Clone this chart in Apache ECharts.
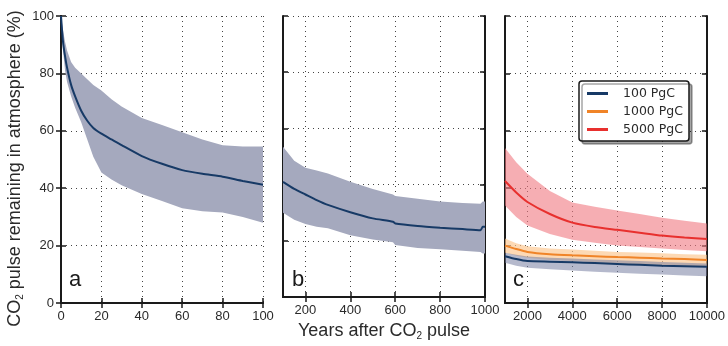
<!DOCTYPE html>
<html><head><meta charset="utf-8">
<script src="https://cdn.jsdelivr.net/npm/echarts@6/dist/echarts.min.js"></script>
<style>html,body{margin:0;padding:0;background:#fff}#c{width:728px;height:346px}</style>
</head><body><div id="c"></div>
<script>
// ---- tick labels ----
const yTicks = [0, 20, 40, 60, 80, 100];
const aTicks = [0, 20, 40, 60, 80, 100];
const bTicks = [200, 400, 600, 800, 1000];
const cTicks = [2000, 4000, 6000, 8000, 10000];

// ---- panel a (0-100 yr) ----
const aYears = [0, 1, 2, 3, 5, 7, 10, 13, 16, 20, 25, 30, 40, 50, 60, 70, 80, 90, 100];
const aMean  = [100, 91, 86, 82, 76, 72, 67, 63.5, 61, 59, 57, 55, 51.2, 48.5, 46.3, 45, 44, 42.5, 41.2];
const aUpper = [100, 95, 91, 88, 84, 82, 80, 78, 76, 74, 71, 68.5, 64.5, 62, 59.5, 57, 55, 54.5, 54.5];
const aLower = [100, 88, 81, 77, 72, 68, 63, 57, 51, 45.5, 43, 41, 38, 35.5, 33, 32, 31.5, 30, 28];

// ---- panel b (100-1000 yr) ----
const bYears = [100, 150, 200, 250, 300, 400, 500, 590, 600, 700, 800, 900, 980, 990, 1000];
const bMean  = [41, 38.5, 36.5, 34.5, 32.8, 30.2, 28, 26.8, 26.2, 25.3, 24.7, 24.2, 23.8, 25, 25];
const bUpper = [53.5, 48.5, 46, 45, 44, 41, 38.5, 36.5, 36, 35, 34, 33.5, 33.2, 34, 34];
const bLower = [30, 27.5, 26, 25, 24.5, 22, 20.5, 19.5, 18.5, 17.5, 17, 16.5, 16, 15.5, 15.5];

// ---- panel c (1000-10000 yr) ----
const cYears = [1000, 1500, 2000, 3000, 4000, 5000, 6000, 7000, 8000, 9000, 10000];
const redMean    = [42.5, 38.5, 35.2, 31, 28, 26.5, 25.5, 24.5, 23.5, 22.8, 22.3];
const redUpper   = [54, 49, 45, 39, 35, 33.5, 32.2, 31, 29.7, 28.7, 27.7];
const redLower   = [34, 30, 27, 24, 22, 21, 20, 19.5, 19, 18.5, 18];
const orangeMean = [20, 18.8, 17.8, 17, 16.6, 16.3, 16, 15.8, 15.5, 15.3, 15];
const orangeUpper= [22.5, 20.8, 19.8, 19, 18.6, 18.2, 17.8, 17.6, 17.3, 17, 16.8];
const orangeLower= [17.5, 16.5, 15.8, 15, 14.6, 14.2, 13.8, 13.5, 13.2, 13, 12.8];
const navyMean   = [16.3, 15.3, 14.6, 14.4, 14.2, 13.9, 13.6, 13.3, 13, 12.8, 12.6];
const navyUpper  = [17.5, 16.8, 16.2, 15.8, 15.5, 15.2, 14.9, 14.6, 14.3, 14, 13.8];
const navyLower  = [14, 13, 12.3, 11.8, 11.3, 10.9, 10.5, 10.2, 9.9, 9.6, 9.3];

const seriesNames = ['100 PgC', '1000 PgC', '5000 PgC'];

const NAVY = '#173a66', ORANGE = '#f08428', RED = '#e8302e';
const FONT = 'Liberation Sans';
const TXT = '#2a2a2a';
const frame = { show: true, lineStyle: { color: '#1a1a1a', width: 2 } };
const dotted = { show: true, lineStyle: { color: '#444', width: 1, type: [1, 4] } };
const subRich = { s: { fontFamily: FONT, fontSize: 10, color: TXT, padding: [10, 0, 0, 0] } };

function bottomX(gi, min, max, ticks, name) {
  return {
    type: 'value', gridIndex: gi, min: min, max: max, position: 'bottom',
    axisLine: frame,
    axisTick: { show: true, inside: true, length: 5, customValues: ticks, lineStyle: { color: '#1a1a1a', width: 1.5 } },
    axisLabel: { show: true, customValues: ticks, fontFamily: FONT, fontSize: 13, color: TXT, margin: 7,
      formatter: v => String(v) },
    splitLine: dotted,
    name: name || '', nameLocation: 'middle', nameGap: 23,
    nameTextStyle: { fontFamily: FONT, fontSize: 18, color: TXT, rich: subRich }
  };
}
function topX(gi, min, max, ticks) {
  return {
    type: 'value', gridIndex: gi, min: min, max: max, position: 'top',
    axisLine: frame,
    axisTick: { show: true, inside: true, length: 5, customValues: ticks, lineStyle: { color: '#1a1a1a', width: 1.5 } },
    axisLabel: { show: false }, splitLine: { show: false }
  };
}
function leftY(gi, showLabel) {
  const ax = {
    type: 'value', gridIndex: gi, min: 0, max: 100, interval: 20, position: 'left',
    axisLine: frame,
    axisTick: { show: true, inside: true, length: 5, lineStyle: { color: '#1a1a1a', width: 1.5 } },
    axisLabel: { show: showLabel, fontFamily: FONT, fontSize: 13, color: TXT, margin: 7 },
    splitLine: dotted
  };
  if (showLabel) {
    ax.name = 'CO{s|2} pulse remaining in atmosphere (%)';
    ax.nameLocation = 'middle';
    ax.nameGap = 36;
    ax.nameTextStyle = { fontFamily: FONT, fontSize: 18, color: TXT, padding: [0, 0, 0, -18], rich: subRich };
  }
  return ax;
}
function rightY(gi) {
  return {
    type: 'value', gridIndex: gi, min: 0, max: 100, interval: 20, position: 'right',
    axisLine: frame,
    axisTick: { show: true, inside: true, length: 5, lineStyle: { color: '#1a1a1a', width: 1.5 } },
    axisLabel: { show: false }, splitLine: { show: false }
  };
}

const series = [];
function band(xi, yi, xs, lo, hi, color) {
  series.push({
    type: 'custom', xAxisIndex: xi, yAxisIndex: yi, silent: true, z: 2, clip: true,
    data: xs.map((x, i) => [x, lo[i], hi[i]]),
    encode: { x: 0, y: [1, 2] },
    renderItem: function (params, api) {
      if (params.dataIndex !== 0) return;
      const pts = [];
      for (let i = 0; i < xs.length; i++) pts.push(api.coord([xs[i], hi[i]]));
      for (let i = xs.length - 1; i >= 0; i--) pts.push(api.coord([xs[i], lo[i]]));
      return { type: 'polygon', shape: { points: pts }, style: { fill: color, stroke: null } };
    }
  });
}
function line(xi, yi, xs, ys, color, name) {
  series.push({
    type: 'line', name: name, xAxisIndex: xi, yAxisIndex: yi, symbol: 'none',
    lineStyle: { color: color, width: 2 }, itemStyle: { color: color },
    data: xs.map((x, i) => [x, ys[i]]), smooth: 0.2, z: 5
  });
}

// panel a
band(0, 0, aYears, aLower, aUpper, '#a5a9be');
line(0, 0, aYears, aMean, NAVY, 'a100');
// panel b
band(2, 2, bYears, bLower, bUpper, '#a5a9be');
line(2, 2, bYears, bMean, NAVY, 'b100');
// panel c
band(4, 4, cYears, redLower, redUpper, 'rgba(240,120,128,0.6)');
band(4, 4, cYears, orangeLower, orangeUpper, 'rgba(252,196,140,0.65)');
band(4, 4, cYears, navyLower, navyUpper, 'rgba(120,128,162,0.55)');
line(4, 4, cYears, redMean, RED, seriesNames[2]);
line(4, 4, cYears, orangeMean, ORANGE, seriesNames[1]);
line(4, 4, cYears, navyMean, NAVY, seriesNames[0]);

const option = {
  animation: false,
  backgroundColor: '#fff',
  grid: [
    { left: 61, top: 16, width: 202, height: 287 },
    { left: 283, top: 16, width: 202, height: 287 },
    { left: 505, top: 16, width: 202, height: 287 }
  ],
  xAxis: [
    bottomX(0, 0, 100, aTicks), topX(0, 0, 100, aTicks),
    bottomX(1, 100, 1000, bTicks, 'Years after CO{s|2} pulse'), topX(1, 100, 1000, bTicks),
    bottomX(2, 1000, 10000, cTicks), topX(2, 1000, 10000, cTicks)
  ],
  yAxis: [
    leftY(0, true), rightY(0),
    leftY(1, false), rightY(1),
    leftY(2, false), rightY(2)
  ],
  legend: {
    orient: 'vertical', left: 579, top: 81,
    data: seriesNames.map(n => ({ name: n, icon: 'rect' })),
    itemWidth: 21, itemHeight: 3, itemGap: 5,
    padding: [6, 6, 5, 8],
    backgroundColor: '#fff', borderColor: '#1a1a1a', borderWidth: 1.5, borderRadius: 3,
    shadowColor: 'rgba(0,0,0,0.35)', shadowBlur: 0, shadowOffsetX: 3, shadowOffsetY: 3,
    textStyle: { fontFamily: 'DejaVu Sans', fontSize: 12.5, color: TXT, padding: [0, 0, 0, 10] },
    selectedMode: false
  },
  title: [
    { text: 'a', left: 64, top: 264, textStyle: { fontFamily: FONT, fontSize: 22, fontWeight: 'normal', color: '#1a1a1a' } },
    { text: 'b', left: 287, top: 264, textStyle: { fontFamily: FONT, fontSize: 22, fontWeight: 'normal', color: '#1a1a1a' } },
    { text: 'c', left: 508, top: 264, textStyle: { fontFamily: FONT, fontSize: 22, fontWeight: 'normal', color: '#1a1a1a' } }
  ],
  series: series
};
echarts.init(document.getElementById('c'), null, { renderer: 'canvas' }).setOption(option);
</script></body></html>
